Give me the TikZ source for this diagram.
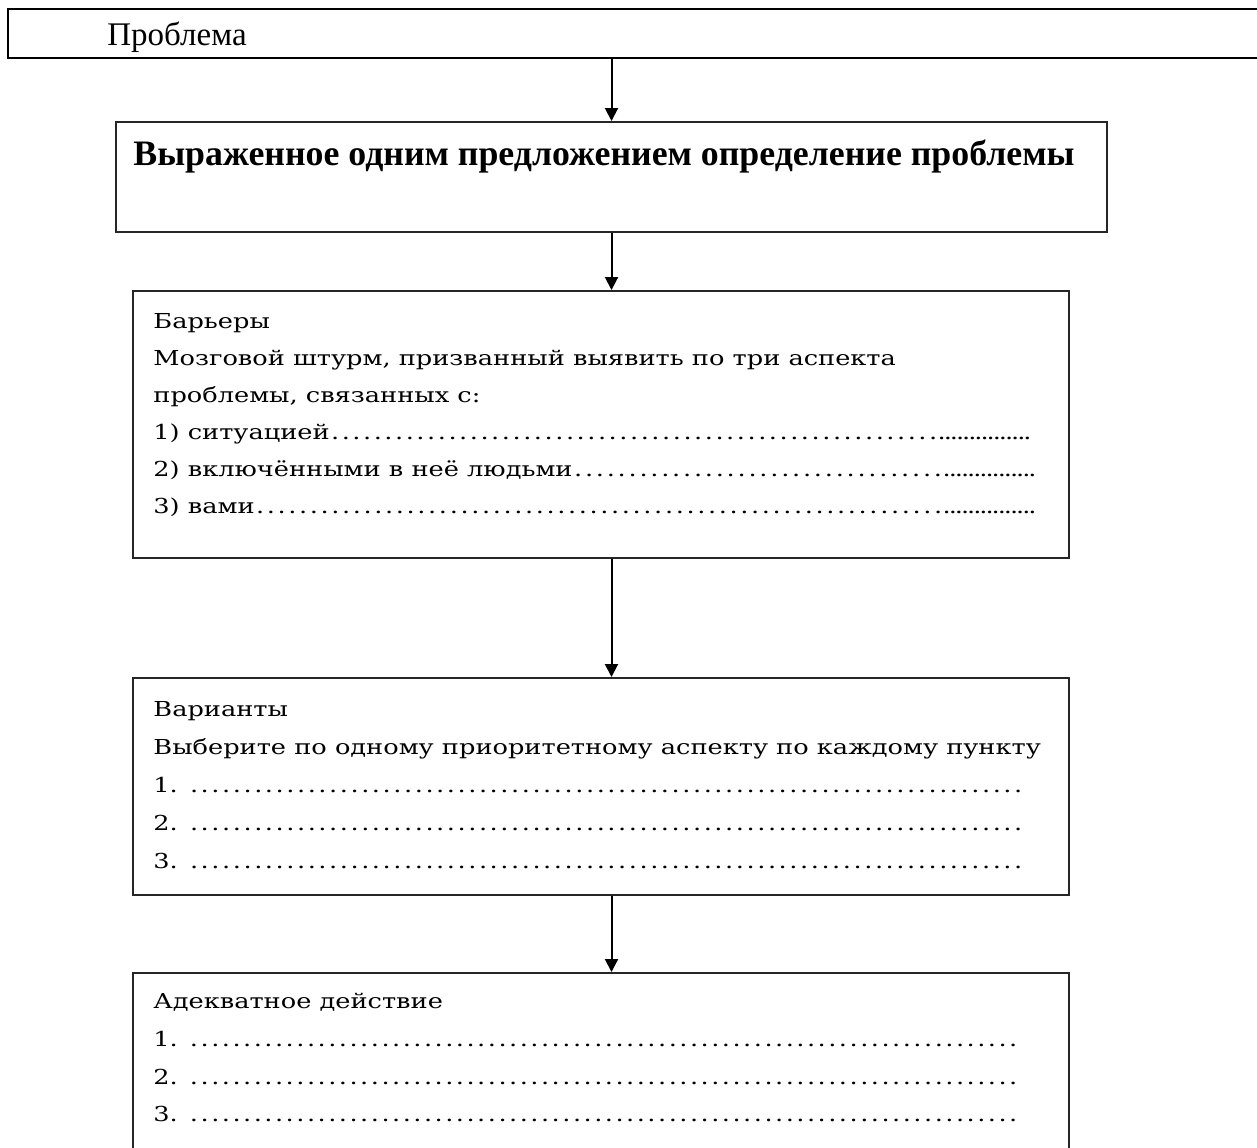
\documentclass[tikz,border=0pt]{standalone}
\usepackage{fontspec}
\setmainfont{Liberation Serif}
\newfontfamily\slabfont[FakeStretch=1.245]{DejaVu Serif}
\usepackage{tikz}
\usetikzlibrary{arrows.meta}
\newcommand\dotrow[2]{\makebox[#2][l]{#1\xleaders\hbox to 5.3pt{\hss.\hss}\hfill}}
\newcommand\dotrowb[2]{\makebox[#2][l]{#1\xleaders\hbox to 5.3pt{\hss.\hss}\hfill\makebox[46pt]{\xleaders\hbox to 3pt{\hss.\hss}\hfill}}}
\tikzset{
  box/.style={draw=black!85, line width=1pt, rectangle, anchor=north west, inner sep=0pt},
  txt/.style={anchor=base west, inner sep=0pt, font=\fontsize{10.3}{12}\slabfont},
  head/.style={anchor=base west, inner sep=0pt, font=\fontsize{16.5}{20}\selectfont},
  arr/.style={-{Triangle[width=6.5pt,length=6.5pt]}, line width=1pt}
}
\begin{document}
\begin{tikzpicture}[x=0.5pt,y=-0.5pt]
		\useasboundingbox (0,0) rectangle (1257,1147);
		\node[box, draw=black, minimum width=650pt, minimum height=24.5pt] (prob) at (7,8) {};
		\node[head] (probt) at (107,45) {Проблема};
		\node[box, minimum width=495.5pt, minimum height=55pt] (opr) at (115,121) {};
		\node[head, font=\fontsize{17.9}{20}\bfseries] (oprt) at (133,165) {Выраженное одним предложением определение проблемы};
		\node[box, minimum width=468pt, minimum height=133.5pt] (bar) at (132,290) {};
		\node[txt] (bar0) at (153,328) {Барьеры};
		\node[txt] (bar1) at (153,365) {Мозговой штурм, призванный выявить по три аспекта};
		\node[txt] (bar2) at (153,402) {проблемы, связанных с:};
		\node[txt] (bar3) at (153,439) {\dotrowb{1) ситуацией}{438.5pt}};
		\node[txt] (bar4) at (153,476) {\dotrowb{2) включёнными в неё людьми}{441pt}};
		\node[txt] (bar5) at (153,513) {\dotrowb{3) вами}{441pt}};
		\node[box, minimum width=468pt, minimum height=108.5pt] (var) at (132,677) {};
		\node[txt] (var0) at (153,716) {Варианты};
		\node[txt] (var1) at (153,754) {Выберите по одному приоритетному аспекту по каждому пункту};
		\node[txt] (var2) at (153,792) {\dotrow{1. }{435pt}};
		\node[txt] (var3) at (153,830) {\dotrow{2. }{435pt}};
		\node[txt] (var4) at (153,868) {\dotrow{3. }{435pt}};
		\node[box, minimum width=468pt, minimum height=100pt] (act) at (132,972) {};
		\node[txt] (act0) at (153,1008) {Адекватное действие};
		\node[txt] (act1) at (153,1046) {\dotrow{1. }{432.5pt}};
		\node[txt] (act2) at (153,1084) {\dotrow{2. }{432.5pt}};
		\node[txt] (act3) at (153,1121) {\dotrow{3. }{432.5pt}};
		\draw[arr] (prob.south -| opr.north) -- (opr.north);
		\draw[arr] (opr.south) -- (opr.south |- bar.north);
		\draw[arr] (opr.south |- bar.south) -- (opr.south |- var.north);
		\draw[arr] (opr.south |- var.south) -- (opr.south |- act.north);
	\end{tikzpicture}
\end{document}
